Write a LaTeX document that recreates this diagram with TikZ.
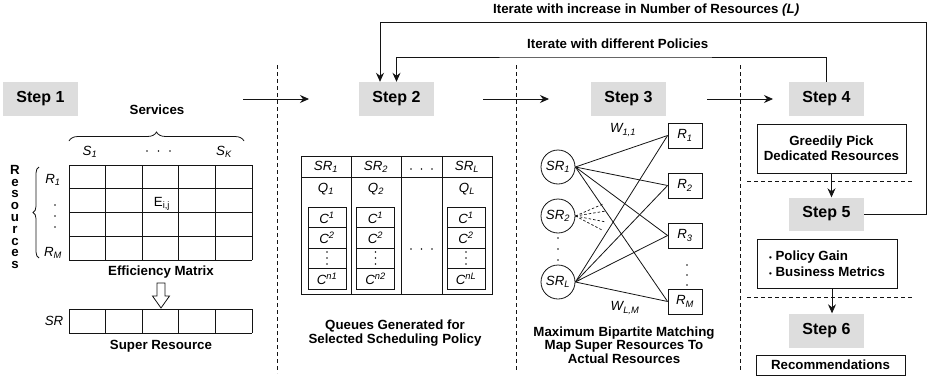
\documentclass[tikz,border=0pt]{standalone}
\usepackage{fontspec}
\setmainfont{Liberation Sans}
\usetikzlibrary{arrows.meta,decorations.pathreplacing}
\definecolor{stepgray}{RGB}{221,221,221}
\definecolor{ln}{RGB}{20,20,20}
\begin{document}
\begin{tikzpicture}[x=1pt,y=-1pt,
  stepbox/.style={fill=stepgray, minimum width=75pt, minimum height=34pt, inner sep=0pt, font=\fontsize{16}{18}\selectfont\bfseries},
  lab/.style={font=\fontsize{13.3}{12}\selectfont\bfseries, align=center, inner sep=0pt},
  mlab/.style={font=\fontsize{13.3}{14}\selectfont\itshape, inner sep=0pt},
  box/.style={draw=ln, line width=0.8pt, inner sep=0pt},
  thin/.style={draw=ln, line width=0.8pt},
  arr/.style={draw=ln, line width=0.8pt, -{Stealth[length=9pt,width=8pt,inset=3pt]}},
  vdash/.style={draw=ln, line width=0.9pt, dash pattern=on 4pt off 3pt},
  fan/.style={draw=ln, line width=0.7pt, dash pattern=on 2.5pt off 2pt},
]
\useasboundingbox (0,0) rectangle (927,391);

% ---------- top loops ----------
\node[lab, anchor=west] (it1) at (493,10) {Iterate with increase in Number of Resources \textit{(L)}};
\node[lab, anchor=west] (it2) at (527,44) {Iterate with different Policies};

% ---------- Step 1 ----------
\node[stepbox] (s1) at (40.5,99) {Step 1};
\node[lab] (serv) at (157,110) {Services};
\draw[thin, decorate, decoration={brace,amplitude=9pt}] (69,141) -- (244,141);
\node[mlab] (sa) at (90,152) {S\textsubscript{1}};
\node[mlab] (sk) at (224,152) {S\textsubscript{K}};
\foreach \xx in {147,158.5,170} \fill[ln] (\xx,151) circle (0.9pt);

\foreach \i in {0,...,5} \draw[ln, line width=0.9pt] ({69+36.6*\i},165) -- ({69+36.6*\i},260);
\foreach \j in {0,...,4} \draw[ln, line width=0.9pt] (69,{165+23.75*\j}) -- (252,{165+23.75*\j});
\node[font=\fontsize{13.3}{14}\selectfont, inner sep=0pt] (eij) at (162,204) {E\textsubscript{i,j}};

\node[mlab] (ra) at (53,180) {R\textsubscript{1}};
\node[mlab] (rm) at (53,253) {R\textsubscript{M}};
\foreach \yy in {205,216,227} \fill[ln] (55,\yy) circle (0.9pt);
\draw[thin, decorate, decoration={brace,amplitude=6pt}] (39,258) -- (39,167);
\node[font=\fontsize{13.3}{11.8}\selectfont\bfseries, align=center, inner sep=0pt] (resl) at (15,217) {R\\e\\s\\o\\u\\r\\c\\e\\s};

\node[lab] (eff) at (161,272) {Efficiency Matrix};
\draw[ln, line width=0.8pt, fill=white] (157,283) -- (165,283) -- (165,296) -- (169.5,296) -- (161,308) -- (152.5,296) -- (157,296) -- cycle;
\foreach \i in {0,...,5} \draw[ln, line width=0.9pt] ({69+36.6*\i},309) -- ({69+36.6*\i},333);
\draw[ln, line width=0.9pt] (69,309) -- (252,309) (69,333) -- (252,333);
\node[mlab] (srl) at (54,321) {SR};
\node[lab] (sup) at (161,346) {Super Resource};

% ---------- separators ----------
\draw[vdash] (277,65) -- (277,373);
\draw[vdash] (516,65) -- (516,372);
\draw[vdash] (740,65) -- (740,371);

% ---------- horizontal arrows ----------
\coordinate (a1s) at (243,99); \coordinate (a1e) at (309,99);
\coordinate (a2s) at (483,99); \coordinate (a2e) at (549,99);
\coordinate (a3s) at (707,99); \coordinate (a3e) at (773,99);
\draw[arr] (a1s) -- (a1e);
\draw[arr] (a2s) -- (a2e);
\draw[arr] (a3s) -- (a3e);

% ---------- Step 2 ----------
\node[stepbox] (s2) at (396.5,99) {Step 2};
\draw[ln, line width=0.9pt] (301,156) rectangle (492,294);
\draw[ln, line width=0.9pt] (351,156) -- (351,294) (401,156) -- (401,294) (442,156) -- (442,294) (301,177) -- (492,177);
\node[mlab] (h1) at (326,167) {SR\textsubscript{1}};
\node[mlab] (h2) at (376,167) {SR\textsubscript{2}};
\node[mlab] (h4) at (467,167) {SR\textsubscript{L}};
\foreach \xx in {411,421.5,432} {\fill[ln] (\xx,169) circle (0.9pt); \fill[ln] (\xx,249) circle (0.9pt);}
\node[mlab] (q1l) at (326,189) {Q\textsubscript{1}};
\node[mlab] (q2l) at (376,189) {Q\textsubscript{2}};
\node[mlab] (q4l) at (467,189) {Q\textsubscript{L}};
\foreach \cx/\nn [count=\k] in {327/n1,375.5/n2,466/nL} {
  \draw[ln, line width=0.9pt] ({\cx-19},207) rectangle ({\cx+19},289);
  \draw[ln, line width=0.9pt] ({\cx-19},227.5) -- ({\cx+19},227.5) ({\cx-19},248) -- ({\cx+19},248) ({\cx-19},268.5) -- ({\cx+19},268.5);
  \node[mlab] (ca\k) at (\cx,217.5) {C\textsuperscript{1}};
  \node[mlab] (cb\k) at (\cx,238) {C\textsuperscript{2}};
  \foreach \yy in {252,258,264} \fill[ln] (\cx,\yy) circle (0.9pt);
  \node[mlab] (cn\k) at (\cx,279) {C\textsuperscript{\nn}};
}
\node[lab] (cap2) at (395,333) {Queues Generated for\\Selected Scheduling Policy};

% ---------- Step 3 ----------
\node[stepbox] (s3) at (628.5,99) {Step 3};
\tikzset{srnode/.style={circle, draw=ln, line width=0.8pt, minimum size=34pt, inner sep=0pt, font=\fontsize{13.3}{14}\selectfont\itshape},
         rnode/.style={box, minimum width=34pt, minimum height=25pt, font=\fontsize{13.3}{14}\selectfont\itshape}}
\node[srnode] (c1) at (558,167) {SR\textsubscript{1}};
\node[srnode] (c2) at (558,216) {SR\textsubscript{2}};
\node[srnode] (cl) at (558,282) {SR\textsubscript{L}};
\node[rnode] (r1) at (685,135.5) {R\textsubscript{1}};
\node[rnode] (r2) at (685,185.5) {R\textsubscript{2}};
\node[rnode] (r3) at (685,235.5) {R\textsubscript{3}};
\node[rnode] (rM) at (685,301.5) {R\textsubscript{M}};
\foreach \t in {r1,r2,r3,rM} {\draw[thin] (c1.east) -- (\t.west); \draw[thin] (cl.east) -- (\t.west);}
\coordinate (f1) at (603,204); \coordinate (f2) at (606,211);
\coordinate (f3) at (606,222); \coordinate (f4) at (602,230);
\foreach \f in {f1,f2,f3,f4} \draw[fan] (c2.east) -- (\f);
\foreach \yy in {238,249,260} \fill[ln] (558,\yy) circle (0.9pt);
\foreach \yy in {265,275,285} \fill[ln] (687,\yy) circle (0.9pt);
\node[mlab] (w11) at (623,130) {W\textsubscript{1,1}};
\node[mlab] (wlm) at (625,308) {W\textsubscript{L,M}};
\node[lab] (cap3) at (624,345) {Maximum Bipartite Matching\\Map Super Resources To\\Actual Resources};

% ---------- Steps 4-6 ----------
\node[stepbox] (s4) at (826.5,99) {Step 4};
\node[box, minimum width=149pt, minimum height=49pt, align=center, font=\fontsize{13.3}{15}\selectfont\bfseries] (greedy) at (831.5,148.5) {Greedily Pick\\Dedicated Resources};
\draw[vdash] (747,181) -- (912,181);
\node[stepbox, minimum height=33pt] (s5) at (826.5,214) {Step 5};
\draw[arr] (greedy.south) -- (greedy.south |- s5.north);
\node[box, minimum width=140pt, minimum height=49pt, align=left, font=\fontsize{13.3}{16}\selectfont\bfseries] (pol) at (827,263.5) {{\fontsize{8}{8}\selectfont\textbullet}\ Policy Gain\\{\fontsize{8}{8}\selectfont\textbullet}\ Business Metrics};
\draw[vdash] (747,297) -- (912,297);
\node[stepbox] (s6) at (826.5,330.5) {Step 6};
\draw[arr] ([xshift=5pt]pol.south) -- ([xshift=5pt]pol.south |- s6.north);
\node[box, minimum width=149pt, minimum height=20pt, font=\fontsize{13.3}{14}\selectfont\bfseries] (rec) at (830.5,365) {Recommendations};

% ---------- loops ----------
\coordinate (o1) at (926,22);
\coordinate (i1) at (600,57);
\draw[arr] (s5.east) -| (o1) -| ([xshift=-16.5pt]s2.north);
\draw[arr] (s4.north) |- (i1) -| (s2.north);
\end{tikzpicture}
\end{document}
